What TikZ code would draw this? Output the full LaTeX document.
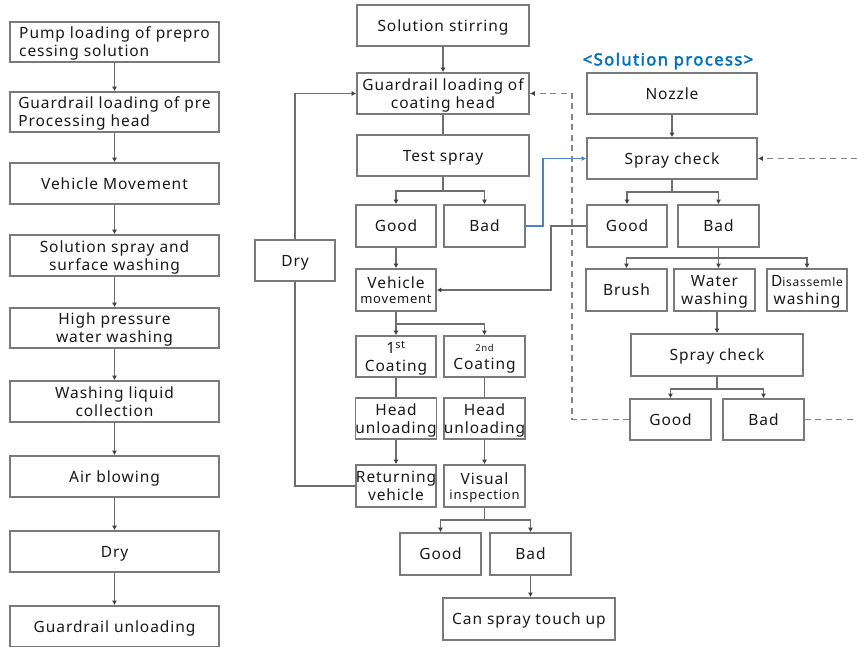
\documentclass[tikz,border=0pt]{standalone}
\usepackage{fontspec}
\setmainfont{Noto Sans}[LetterSpace=6]
\newfontfamily\titlefont{Noto Sans}[FakeBold=2.5, LetterSpace=9]
\usetikzlibrary{arrows.meta}
\definecolor{linec}{HTML}{6E6E6E}
\definecolor{boxc}{HTML}{7A7A7A}
\definecolor{blueline}{HTML}{4F81C4}
\definecolor{titleblue}{HTML}{0070C0}
\tikzset{
  box/.style={draw=boxc, line width=1.6pt, fill=white, inner sep=0pt, align=center,
    font=\fontsize{15.5}{18}\selectfont, text=black!90, text depth=0pt},
  conn/.style={draw=linec, line width=1.7pt},
  arr/.style={conn, -{Latex[length=4.5pt,width=5pt,color=black!75]}},
  dconn/.style={draw=linec!85, line width=1.6pt, dash pattern=on 6pt off 4.5pt},
  darr/.style={dconn, -{Latex[length=5pt,width=5pt,color=black!75]}},
  barr/.style={draw=blueline, line width=1.5pt, -{Latex[length=4.5pt,width=5pt]}},
}
\begin{document}
\begin{tikzpicture}[x=1pt,y=-1pt]
\useasboundingbox (0,0) rectangle (857,646);
% ---------- left column ----------
\node[box,align=left,minimum width=209,minimum height=40] (L1) at (114.5,42) {Pump loading of prepro\\cessing solution};
\node[box,align=left,minimum width=209,minimum height=40] (L2) at (114.5,112) {Guardrail loading of pre\\Processing head};
\node[box,minimum width=209,minimum height=41] (L3) at (114.5,183.5) {Vehicle Movement};
\node[box,minimum width=209,minimum height=41] (L4) at (114.5,255.5) {Solution spray and\\surface washing};
\node[box,minimum width=209,minimum height=40] (L5) at (114.5,328) {High pressure\\water washing};
\node[box,minimum width=209,minimum height=41] (L6) at (114.5,401.5) {Washing liquid\\collection};
\node[box,minimum width=209,minimum height=41] (L7) at (114.5,476.5) {Air blowing};
\node[box,minimum width=209,minimum height=41] (L8) at (114.5,551.5) {Dry};
\node[box,minimum width=209,minimum height=41] (L9) at (114.5,626.5) {Guardrail unloading};
\foreach \a/\b in {L1/L2,L2/L3,L3/L4,L4/L5,L5/L6,L6/L7,L7/L8,L8/L9}
  \draw[arr] (\a.south) -- (\b.north);
% ---------- middle column ----------
\node[box,minimum width=172,minimum height=41] (ST) at (443,25.5) {Solution stirring};
\node[box,minimum width=172,minimum height=41] (GL) at (443,93.5) {Guardrail loading of\\coating head};
\node[box,minimum width=172,minimum height=41] (TS) at (443,155.5) {Test spray};
\node[box,minimum width=80,minimum height=42] (G1) at (396,226) {Good};
\node[box,minimum width=81,minimum height=42] (B1) at (484.5,226) {Bad};
\node[box,minimum width=80,minimum height=42] (VM) at (396,290) {Vehicle\\[-3pt]{\fontsize{13}{14}\selectfont movement}};
\node[box,minimum width=80,minimum height=41] (C1) at (396,356.5) {1\textsuperscript{st}\\Coating};
\node[box,minimum width=81,minimum height=41] (C2) at (484.5,356.5) {{\fontsize{9.5}{10}\selectfont 2nd}\\Coating};
\node[box,minimum width=80,minimum height=41] (H1) at (396,418.5) {Head\\unloading};
\node[box,minimum width=81,minimum height=41] (H2) at (484.5,418.5) {Head\\unloading};
\node[box,minimum width=80,minimum height=42] (RV) at (396,486) {Returning\\vehicle};
\node[box,minimum width=81,minimum height=42] (VI) at (484.5,486) {Visual\\[-3pt]{\fontsize{13}{14}\selectfont inspection}};
\node[box,minimum width=81,minimum height=42] (G2) at (440.5,554) {Good};
\node[box,minimum width=81,minimum height=42] (B2) at (530.5,554) {Bad};
\node[box,minimum width=172,minimum height=42] (CS) at (529,619) {Can spray touch up};
\node[box,minimum width=80,minimum height=41] (DR) at (295,260.5) {Dry};

\draw[arr] (ST.south) -- (GL.north);
\draw[conn] (GL.south) -- (TS.north);
\draw[conn] (TS.south) -- ++(0,14.5) coordinate (tsb);
\draw[arr] (tsb) -| (G1.north);
\draw[arr] (tsb) -| (B1.north);
\draw[arr] (G1.south) -- (VM.north);
\draw[conn] (VM.south) -- ++(0,12) coordinate (vmb);
\draw[arr] (vmb) -| (C1.north);
\draw[arr] (vmb) -| (C2.north);
\draw[conn] (C1.south) -- (H1.north);
\draw[conn] (C2.south) -- (H2.north);
\draw[arr] (H1.south) -- (RV.north);
\draw[arr] (H2.south) -- (VI.north);
\draw[conn] (VI.south) -- ++(0,12) coordinate (vib);
\draw[arr] (vib) -| (G2.north);
\draw[arr] (vib) -| (B2.north);
\draw[arr] (B2.south) -- (B2.south |- CS.north);
\draw[conn] (RV.west) -| (DR.south);
\draw[arr] (DR.north) |- (GL.west);
% ---------- right column ----------
\node[font=\titlefont\fontsize{16.5}{18}\selectfont, text=titleblue, inner sep=0pt] (TT) at (668,61) {<Solution process>};
\node[box,minimum width=170,minimum height=41] (NZ) at (672,93.5) {Nozzle};
\node[box,minimum width=170,minimum height=41] (SC) at (672,158.5) {Spray check};
\node[box,minimum width=80,minimum height=42] (G3) at (627,226) {Good};
\node[box,minimum width=81,minimum height=42] (B3) at (718.5,226) {Bad};
\node[box,minimum width=81,minimum height=42] (BR) at (626.5,290) {Brush};
\node[box,minimum width=81,minimum height=42] (WW) at (714.5,290) {Water\\washing};
\node[box,minimum width=80,minimum height=42] (DW) at (807,290) {D{\fontsize{12}{14}\selectfont isassemle}\\washing};
\node[box,minimum width=172,minimum height=42] (SC2) at (717,355) {Spray check};
\node[box,minimum width=81,minimum height=41] (G4) at (670.5,419.5) {Good};
\node[box,minimum width=81,minimum height=41] (B4) at (763.5,419.5) {Bad};

\draw[arr] (NZ.south) -- (SC.north);
\draw[conn] (SC.south) -- ++(0,12.5) coordinate (scb);
\draw[arr] (scb) -| (G3.north);
\draw[arr] (scb) -| (B3.north);
\draw[conn] (B3.south) -- ++(0,10) coordinate (b3b);
\draw[arr] (b3b) -| (BR.north);
\draw[arr] (b3b) -- (b3b |- WW.north);
\draw[arr] (b3b) -| (DW.north);
\draw[arr] (SC2.north |- WW.south) -- (SC2.north);
\draw[conn] (SC2.south) -- ++(0,12) coordinate (sc2b);
\draw[arr] (sc2b) -| (G4.north);
\draw[arr] (sc2b) -| (B4.north);
% cross connections
\draw[barr] (B1.east) -- ++(17,0) |- (SC.west);
\draw[arr] (G3.west) -- ++(-35,0) |- (VM.east);
\draw[darr] (G4.west) -- ++(-57,0) |- (GL.east);
\coordinate (RA) at (857,419.5);
\coordinate (RB) at (857,158.5);
\draw[dconn] (B4.east) -- (RA);
\draw[darr] (RB) -- (SC.east);
\end{tikzpicture}
\end{document}
